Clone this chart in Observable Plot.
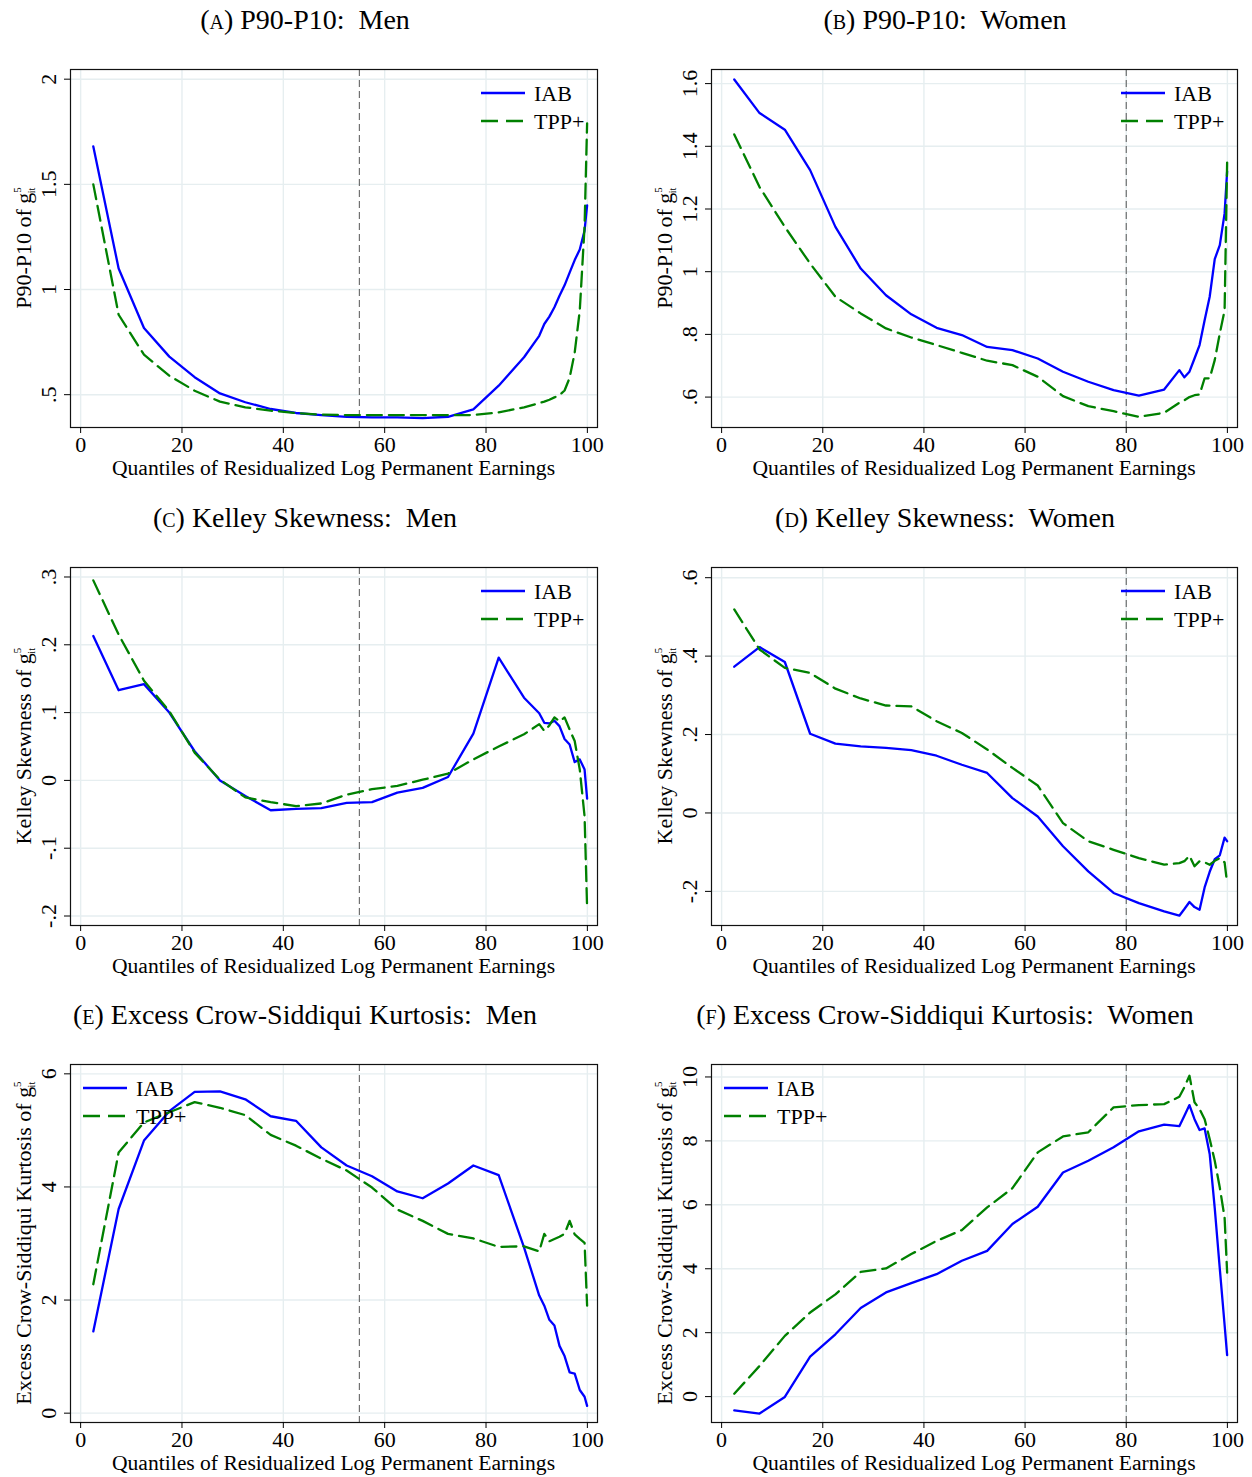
<!DOCTYPE html>
<html><head><meta charset="utf-8">
<script src="https://cdn.jsdelivr.net/npm/d3@7"></script>
<script src="https://cdn.jsdelivr.net/npm/@observablehq/plot@0.6"></script>
<style>
body{margin:0;background:#fff;}
#root{position:relative;width:1252px;height:1477px;background:#fff;font-family:"Liberation Serif","Times New Roman",serif;color:#000;overflow:hidden;}
.title{position:absolute;width:626px;text-align:center;font-size:28px;line-height:30px;white-space:pre;}
.xlab{position:absolute;text-align:center;font-size:21.6px;line-height:24px;white-space:nowrap;}
.panel{position:absolute;}
.sc{font-variant:small-caps;}
</style></head><body><div id="root"></div><script>
// ---------------- data ----------------
const quantiles = [2.5,7.5,12.5,17.5,22.5,27.5,32.5,37.5,42.5,47.5,52.5,57.5,62.5,67.5,72.5,77.5,82.5,87.5,90.5,91.5,92.5,93.5,94.5,95.5,96.5,97.5,98.5,99.45,99.95];

const p9010MenIAB = [1.68,1.10,0.817,0.681,0.583,0.506,0.464,0.432,0.413,0.403,0.395,0.392,0.392,0.389,0.395,0.430,0.543,0.678,0.78,0.836,0.871,0.916,0.97,1.02,1.08,1.14,1.19,1.28,1.40];
const p9010MenTPP = [1.50,0.88,0.69,0.59,0.519,0.467,0.44,0.424,0.413,0.405,0.403,0.403,0.403,0.403,0.403,0.403,0.416,0.44,0.46,0.467,0.476,0.487,0.498,0.52,0.58,0.70,0.90,1.30,1.79];

const p9010WomenIAB = [1.613,1.506,1.453,1.324,1.143,1.01,0.925,0.864,0.821,0.798,0.76,0.75,0.723,0.681,0.649,0.622,0.605,0.624,0.686,0.663,0.681,0.723,0.766,0.845,0.92,1.04,1.085,1.186,1.32];
const p9010WomenTPP = [1.438,1.27,1.143,1.026,0.92,0.867,0.819,0.79,0.766,0.741,0.716,0.702,0.665,0.603,0.571,0.555,0.537,0.55,0.582,0.59,0.6,0.606,0.608,0.66,0.66,0.718,0.803,0.877,1.348];

const kelleyMenIAB = [0.213,0.133,0.142,0.1,0.043,0.0,-0.023,-0.044,-0.042,-0.041,-0.033,-0.032,-0.018,-0.011,0.005,0.069,0.181,0.122,0.099,0.085,0.084,0.088,0.08,0.061,0.053,0.027,0.031,0.016,-0.027];
const kelleyMenTPP = [0.295,0.215,0.147,0.102,0.041,0.001,-0.025,-0.032,-0.038,-0.034,-0.021,-0.013,-0.008,0.001,0.01,0.031,0.05,0.068,0.083,0.073,0.081,0.093,0.087,0.093,0.075,0.058,0.016,-0.053,-0.188];

const kelleyWomenIAB = [0.373,0.423,0.385,0.202,0.177,0.17,0.166,0.16,0.146,0.123,0.102,0.038,-0.009,-0.085,-0.149,-0.204,-0.23,-0.251,-0.262,-0.245,-0.227,-0.24,-0.247,-0.19,-0.15,-0.118,-0.108,-0.063,-0.072];
const kelleyWomenTPP = [0.519,0.417,0.37,0.357,0.317,0.292,0.274,0.272,0.234,0.204,0.162,0.115,0.07,-0.026,-0.072,-0.094,-0.115,-0.132,-0.128,-0.123,-0.109,-0.136,-0.123,-0.126,-0.132,-0.122,-0.115,-0.126,-0.179];

const kurtMenIAB = [1.445,3.61,4.82,5.34,5.68,5.69,5.55,5.25,5.17,4.70,4.38,4.19,3.92,3.80,4.06,4.38,4.21,2.93,2.08,1.90,1.65,1.55,1.19,1.01,0.72,0.70,0.41,0.29,0.13];
const kurtMenTPP = [2.28,4.61,5.14,5.32,5.50,5.40,5.27,4.92,4.73,4.50,4.29,3.99,3.60,3.40,3.17,3.09,2.94,2.95,2.86,3.17,3.04,3.08,3.12,3.17,3.40,3.16,3.08,3.01,1.90];

const kurtWomenIAB = [-0.43,-0.53,-0.01,1.25,1.95,2.77,3.26,3.55,3.83,4.25,4.56,5.40,5.94,7.01,7.38,7.80,8.30,8.51,8.46,8.79,9.12,8.68,8.34,8.39,7.59,5.9,4.0,2.24,1.30];
const kurtWomenTPP = [0.09,0.96,1.90,2.63,3.20,3.90,4.01,4.46,4.87,5.21,5.92,6.52,7.64,8.14,8.27,9.05,9.12,9.15,9.38,9.68,10.04,9.21,9.0,8.68,8.06,7.38,6.54,5.6,3.88];

const xTicks = [0,20,40,60,80,100];
const yTicksP9010Men = [0.5,1,1.5,2];
const yTicksP9010Women = [0.6,0.8,1,1.2,1.4,1.6];
const yTicksKelleyMen = [-0.2,-0.1,0,0.1,0.2,0.3];
const yTicksKelleyWomen = [-0.2,0,0.2,0.4,0.6];
const yTicksKurtMen = [0,2,4,6];
const yTicksKurtWomen = [0,2,4,6,8,10];

const refLineMen = 55;
const refLineWomen = 80;

const panelLetters = ["a","b","c","d","e","f"];
const panelTitles = ["P90-P10:  Men","P90-P10:  Women","Kelley Skewness:  Men","Kelley Skewness:  Women","Excess Crow-Siddiqui Kurtosis:  Men","Excess Crow-Siddiqui Kurtosis:  Women"];
const yTitles = ["P90-P10","P90-P10","Kelley Skewness","Kelley Skewness","Excess Crow-Siddiqui Kurtosis","Excess Crow-Siddiqui Kurtosis"];
const xTitle = "Quantiles of Residualized Log Permanent Earnings";
const seriesNames = ["IAB","TPP+"];

// ---------------- layout ----------------
const FONT = '"Liberation Serif","Times New Roman",serif';
const GRID = "#e6eef0";
const BLUE = "#0000ff";
const GREEN = "#008000";
const FRAME_H = 358;
const MT = 10, MB = 60;
const rowFrameTop = [69, 567, 1064];
const cols = [{left:0, ml:70, mr:29, tcx:305}, {left:626, ml:85, mr:15, tcx:319}];

const panels = [
  {iab:p9010MenIAB, tpp:p9010MenTPP, yDomain:[0.344,2.046], yTicks:yTicksP9010Men, vline:refLineMen, legend:"right"},
  {iab:p9010WomenIAB, tpp:p9010WomenTPP, yDomain:[0.503,1.645], yTicks:yTicksP9010Women, vline:refLineWomen, legend:"right"},
  {iab:kelleyMenIAB, tpp:kelleyMenTPP, yDomain:[-0.214,0.314], yTicks:yTicksKelleyMen, vline:refLineMen, legend:"right"},
  {iab:kelleyWomenIAB, tpp:kelleyWomenTPP, yDomain:[-0.287,0.626], yTicks:yTicksKelleyWomen, vline:refLineWomen, legend:"right"},
  {iab:kurtMenIAB, tpp:kurtMenTPP, yDomain:[-0.165,6.165], yTicks:yTicksKurtMen, vline:refLineMen, legend:"left"},
  {iab:kurtWomenIAB, tpp:kurtWomenTPP, yDomain:[-0.81,10.39], yTicks:yTicksKurtWomen, vline:refLineWomen, legend:"left"},
];

const fmt = d => d === 0 ? "0" : String(+d.toFixed(3)).replace(/^(-?)0\./, "$1.");

const root = document.getElementById("root");

panels.forEach((cfg, k) => {
  const row = Math.floor(k / 2), c = cols[k % 2];
  const W = 626, H = MT + FRAME_H + MB;
  const top = rowFrameTop[row] - MT;
  const data = quantiles.map((q, i) => ({q, iab: cfg.iab[i], tpp: cfg.tpp[i]}));

  const svg = Plot.plot({
    width: W, height: H,
    marginLeft: c.ml, marginRight: c.mr, marginTop: MT, marginBottom: MB,
    style: {fontFamily: FONT, fontSize: "22px", color: "#000", background: "transparent", overflow: "visible"},
    x: {domain: [-2, 102], label: null},
    y: {domain: cfg.yDomain, label: null},
    marks: [
      Plot.gridX(xTicks, {stroke: GRID, strokeOpacity: 1, strokeWidth: 1.4}),
      Plot.gridY(cfg.yTicks, {stroke: GRID, strokeOpacity: 1, strokeWidth: 1.4}),
      Plot.ruleX([cfg.vline], {stroke: "#555", strokeWidth: 1, strokeDasharray: "7,4"}),
      Plot.line(data, {x: "q", y: "iab", stroke: BLUE, strokeWidth: 2.3}),
      Plot.line(data, {x: "q", y: "tpp", stroke: GREEN, strokeWidth: 2.3, strokeDasharray: "15,7"}),
      Plot.frame({stroke: "#111", strokeWidth: 1.2}),
      Plot.axisX(xTicks, {tickSize: 6, tickPadding: 3, label: null, tickFormat: d => String(d), fontSize: 22}),
      Plot.axisY(cfg.yTicks, {tickSize: 6, tickPadding: 9, tickRotate: -90, label: null, tickFormat: fmt, fontSize: 22})
    ]
  });

  const s = d3.select(svg);
  // y-axis title with stacked super/subscript
  const fy = MT + FRAME_H / 2;
  const t = s.append("text")
    .attr("transform", `translate(${c.ml - 39},${fy}) rotate(-90)`)
    .attr("text-anchor", "middle")
    .attr("font-size", 22)
    .attr("fill", "#000");
  t.append("tspan").text(yTitles[k] + " of g");
  t.append("tspan").attr("font-size", 11).attr("dy", -10).text("5");
  t.append("tspan").attr("font-size", 10).attr("dx", -6).attr("dy", 14).text("it");

  // legend
  const fx0 = c.ml, fx1 = W - c.mr;
  const lx = cfg.legend === "right" ? fx1 - 116 : fx0 + 13;
  const rows = [MT + 24, MT + 52];
  const lg = s.append("g").attr("text-anchor", "start");
  seriesNames.forEach((name, i) => {
    lg.append("line")
      .attr("x1", lx).attr("x2", lx + 44).attr("y1", rows[i]).attr("y2", rows[i])
      .attr("stroke", i === 0 ? BLUE : GREEN).attr("stroke-width", 2.4)
      .attr("stroke-dasharray", i === 0 ? null : "17,8");
    lg.append("text").attr("x", lx + 53).attr("y", rows[i]).attr("dy", "0.35em")
      .attr("text-anchor", "start")
      .attr("font-size", 22).attr("fill", "#000").text(name);
  });

  svg.classList.add("panel");
  svg.style.left = c.left + "px";
  svg.style.top = top + "px";
  root.appendChild(svg);

  // title
  const tl = document.createElement("div");
  tl.className = "title";
  tl.style.left = (c.left + c.tcx - 313) + "px";
  tl.style.top = (rowFrameTop[row] - 49 - 15) + "px";
  tl.innerHTML = `(<span class="sc">${panelLetters[k]}</span>) ${panelTitles[k].replace(/  /g, "&nbsp; ")}`;
  root.appendChild(tl);

  // x-axis title
  const xl = document.createElement("div");
  xl.className = "xlab";
  xl.style.left = (c.left + c.ml) + "px";
  xl.style.width = (W - c.ml - c.mr) + "px";
  xl.style.top = (rowFrameTop[row] + FRAME_H + 41 - 12) + "px";
  xl.textContent = xTitle;
  root.appendChild(xl);
});
</script></body></html>
